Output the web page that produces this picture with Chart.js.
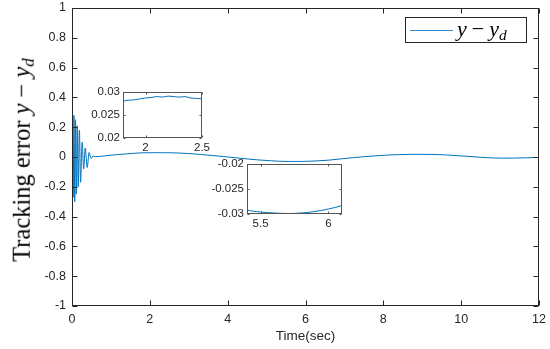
<!DOCTYPE html>
<html>
<head>
<meta charset="utf-8">
<script src="https://cdn.jsdelivr.net/npm/chart.js@4.4.0/dist/chart.umd.min.js"></script>
<style>
    html, body { margin: 0; padding: 0; background: #fff; }
    #wrap { position: relative; width: 550px; height: 349px; overflow: hidden; }
    canvas { position: absolute; }
    #ylab {
        position: absolute; left: 22px; top: 160px;
        transform: translate(-50%, -50%) rotate(-90deg);
        font-family: "Liberation Serif", serif; font-size: 24.5px;
        white-space: nowrap; color: #000; line-height: 1;
    }
    .math { font-style: italic; }
    #ylab .op { margin: 0 6px; }
    sub { font-size: 0.7em; vertical-align: -0.25em; line-height: 0; }
    #legend {
        position: absolute; left: 405px; top: 17px; width: 122px; height: 26px;
        border: 1px solid #262626; background: #fff; box-sizing: border-box;
    }
    #legend .swatch { position: absolute; left: 4px; top: 12px; width: 43px; border-top: 1px solid #2b8ad0; }
    #legend .txt {
        position: absolute; left: 51px; top: -2px;
        font-family: "Liberation Serif", serif; font-size: 22px; font-style: italic; white-space: nowrap;
    }
    #legend .txt .op { margin: 0 5px; font-style: normal; }
</style>
</head>
<body>
<div id="wrap">
    <canvas id="main" width="550" height="349" style="left:0;top:0"></canvas>
    <canvas id="inset1" width="135" height="80" style="left:80px;top:82px"></canvas>
    <canvas id="inset2" width="155" height="82" style="left:200px;top:154px"></canvas>
    <div id="ylab">Tracking error <span class="math">y</span><span class="op">−</span><span class="math">y<sub>d</sub></span></div>
    <div id="legend"><span class="swatch"></span><span class="txt">y<span class="op">−</span>y<sub>d</sub></span></div>
</div>
<script>
// --- data ---
const timeSec = [
    0, 0.012, 0.03, 0.05, 0.07, 0.09, 0.11, 0.135, 0.16,
    0.19, 0.22, 0.26, 0.30, 0.34, 0.39, 0.44, 0.49, 0.54, 0.6, 0.8, 1.0, 1.2, 1.4, 1.6,
    1.8, 1.9, 2.0, 2.05, 2.1, 2.15, 2.2, 2.25, 2.3, 2.35, 2.4, 2.45, 2.5,
    2.7, 3.0, 3.3, 3.6, 3.9, 4.2, 4.5, 4.8, 5.1, 5.3,
    5.4, 5.5, 5.6, 5.7, 5.8, 5.9, 6.0, 6.1,
    6.3, 6.6, 6.9, 7.2, 7.5, 7.8, 8.1, 8.4, 8.7, 9.0, 9.3, 9.6, 9.9,
    10.2, 10.5, 10.8, 11.1, 11.4, 11.7, 12.0
];
const trackingError = [
    0, 0.29, -0.27, 0.28, -0.30, 0.25, -0.25, 0.21, -0.20,
    0.18, -0.17, 0.10, -0.08, 0.06, -0.07, 0.03, -0.01, 0.006, 0.002, 0.006, 0.012, 0.017, 0.021, 0.025,
    0.0280, 0.0283, 0.0287, 0.0288, 0.0290, 0.0289, 0.0291, 0.0290, 0.0289, 0.0290, 0.0287, 0.0286, 0.0285,
    0.027, 0.023, 0.017, 0.010, 0.003, -0.005, -0.013, -0.020, -0.025, -0.028,
    -0.0292, -0.0296, -0.0298, -0.0299, -0.0298, -0.0295, -0.0290, -0.0283,
    -0.026, -0.021, -0.013, -0.005, 0.002, 0.008, 0.013, 0.016, 0.018, 0.018, 0.017, 0.014, 0.009,
    0.004, -0.002, -0.006, -0.008, -0.007, -0.005, -0.003
];
const mainXTicks = [0, 2, 4, 6, 8, 10, 12];
const mainYTicks = [-1, -0.8, -0.6, -0.4, -0.2, 0, 0.2, 0.4, 0.6, 0.8, 1];
const inset1XTicks = [2, 2.5];
const inset1YTicks = [0.02, 0.025, 0.03];
const inset2XTicks = [5.5, 6];
const inset2YTicks = [-0.03, -0.025, -0.02];

const points = timeSec.map((t, i) => ({ x: t, y: trackingError[i] }));

const FONT = '"Liberation Sans", Arial, sans-serif';
const AXIS_COLOR = '#262626';

// white axes background, box outline and MATLAB-style inward ticks
const boxTicks = {
    id: 'boxTicks',
    beforeDatasetsDraw(chart) {
        const a = chart.chartArea, c = chart.ctx;
        c.save();
        c.fillStyle = '#fff';
        c.fillRect(a.left, a.top, a.right - a.left, a.bottom - a.top);
        c.restore();
    },
    afterDraw(chart, args, opts) {
        const a = chart.chartArea, c = chart.ctx, len = opts.len;
        const L = Math.round(a.left) + 0.5, R = Math.round(a.right) - 0.5;
        const T = Math.round(a.top) + 0.5, B = Math.round(a.bottom) - 0.5;
        c.save();
        c.strokeStyle = opts.color;
        c.lineWidth = 1;
        c.beginPath();
        chart.scales.x.ticks.forEach(t => {
            const px = Math.round(chart.scales.x.getPixelForValue(t.value)) + 0.5;
            c.moveTo(px, B); c.lineTo(px, B - len);
            c.moveTo(px, T); c.lineTo(px, T + len);
        });
        chart.scales.y.ticks.forEach(t => {
            const py = Math.round(chart.scales.y.getPixelForValue(t.value)) + 0.5;
            c.moveTo(L, py); c.lineTo(L + len, py);
            c.moveTo(R, py); c.lineTo(R - len, py);
        });
        c.stroke();
        c.strokeRect(L, T, R - L, B - T);
        c.restore();
    }
};

// invisible tick marks only to space the labels off the axis
const spacer = len => ({
    display: true, drawOnChartArea: false, drawTicks: true,
    tickLength: len, color: 'rgba(0,0,0,0)'
});

function makeChart(id, cfg) {
    return new Chart(document.getElementById(id), {
        type: 'line',
        data: {
            datasets: [{
                data: points,
                borderColor: '#0072BD',
                borderWidth: 1,
                pointRadius: 0,
                fill: false,
                cubicInterpolationMode: 'monotone'
            }]
        },
        options: {
            responsive: false,
            animation: false,
            devicePixelRatio: 1,
            layout: { padding: cfg.padding },
            plugins: {
                legend: { display: false },
                tooltip: { enabled: false },
                boxTicks: { len: cfg.tickLen, color: cfg.boxColor }
            },
            scales: {
                x: {
                    type: 'linear',
                    min: cfg.xMin,
                    max: cfg.xMax,
                    afterBuildTicks: s => { s.ticks = cfg.xTicks.map(v => ({ value: v })); },
                    afterFit: s => { s.height = cfg.xHeight; },
                    grid: spacer(cfg.xPad),
                    border: { display: false },
                    ticks: {
                        font: { family: FONT, size: cfg.fontSize },
                        color: AXIS_COLOR,
                        padding: 0,
                        maxRotation: 0,
                        autoSkip: false,
                        callback: v => String(+v.toFixed(3))
                    },
                    title: cfg.xTitle || { display: false }
                },
                y: {
                    type: 'linear',
                    min: cfg.yMin,
                    max: cfg.yMax,
                    afterBuildTicks: s => { s.ticks = cfg.yTicks.map(v => ({ value: v })); },
                    afterFit: s => { s.width = cfg.yWidth; },
                    grid: spacer(cfg.yPad),
                    border: { display: false },
                    ticks: {
                        font: { family: FONT, size: cfg.fontSize },
                        color: AXIS_COLOR,
                        padding: 0,
                        autoSkip: false,
                        callback: v => String(+v.toFixed(3))
                    }
                }
            }
        },
        plugins: [boxTicks]
    });
}

makeChart('main', {
    padding: { top: 8, right: 11, bottom: 5, left: 0 },
    xMin: 0, xMax: 12, yMin: -1, yMax: 1,
    xTicks: mainXTicks, yTicks: mainYTicks,
    xHeight: 38, yWidth: 72, xPad: 6, yPad: 6,
    fontSize: 12.5, tickLen: 5, boxColor: AXIS_COLOR,
    xTitle: {
        display: true, text: 'Time(sec)', color: AXIS_COLOR,
        font: { family: FONT, size: 13.5 }, padding: 0
    }
});

makeChart('inset1', {
    padding: { top: 10, right: 13, bottom: 0, left: 0 },
    xMin: 1.8, xMax: 2.5, yMin: 0.02, yMax: 0.03,
    xTicks: inset1XTicks, yTicks: inset1YTicks,
    xHeight: 24, yWidth: 43, xPad: 3, yPad: 3,
    fontSize: 11.5, tickLen: 2, boxColor: '#555'
});

makeChart('inset2', {
    padding: { top: 10, right: 13, bottom: 0, left: 0 },
    xMin: 5.4, xMax: 6.1, yMin: -0.03, yMax: -0.02,
    xTicks: inset2XTicks, yTicks: inset2YTicks,
    xHeight: 22, yWidth: 47, xPad: 3, yPad: 3,
    fontSize: 11.5, tickLen: 2, boxColor: '#555'
});
</script>
</body>
</html>
